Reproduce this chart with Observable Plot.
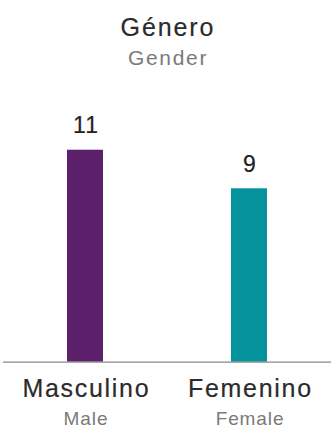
<!DOCTYPE html>
<html>
<head>
<meta charset="utf-8">
<script src="https://cdn.jsdelivr.net/npm/d3@7"></script>
<script src="https://cdn.jsdelivr.net/npm/@observablehq/plot@0.6"></script>
<style>
  html, body { margin: 0; padding: 0; background: #fff; }
  body { width: 331px; height: 429px; overflow: hidden; font-family: "Liberation Sans", Arial, sans-serif; }
  .title { text-align: center; font-size: 25px; line-height: 28px; color: #2b2b2b; padding-top: 13px; margin-left: 5px; letter-spacing: 1.9px; -webkit-text-stroke: 0.2px #2b2b2b; }
  .subtitle { text-align: center; font-size: 21px; line-height: 24px; color: #7a7a7a; margin-top: 5px; margin-left: 5px; letter-spacing: 1.7px; }
  #chart { position: absolute; top: 80px; left: 0; }
</style>
</head>
<body>
<div class="title">Género</div>
<div class="subtitle">Gender</div>
<div id="chart"></div>
<script>
const categories = ["Masculino", "Femenino"];
const englishLabels = ["Male", "Female"];
const values = [11, 9];
const colors = ["#5c206b", "#04929c"];

const data = categories.map((c, i) => ({ cat: c, en: englishLabels[i], value: values[i], color: colors[i] }));

const chart = Plot.plot({
  width: 331,
  height: 349,
  marginTop: 10,
  marginBottom: 67.3,
  marginLeft: 3,
  marginRight: 0,
  style: { fontFamily: "Liberation Sans, Arial, sans-serif", background: "#fff" },
  x: { domain: categories, range: [2, 333], paddingInner: 0.78, paddingOuter: 0.399, axis: null },
  y: { domain: [0, 14.1], axis: null },
  marks: [
    Plot.barY(data, { x: "cat", y: "value", fill: "color" }),
    Plot.ruleY([0], { stroke: "#8a8a8a", strokeWidth: 1.2 }),
    Plot.text(data, { x: "cat", y: "value", text: d => String(d.value), dy: -17, dx: 0.6, fontSize: 23, fill: "#222", stroke: "#222", strokeWidth: 0.2, lineAnchor: "bottom", className: "val" }),
    Plot.text(data, { x: "cat", y: 0, text: "cat", dy: 35, dx: 0.9, fontSize: 25, fill: "#2b2b2b", stroke: "#2b2b2b", strokeWidth: 0.2, lineAnchor: "bottom", className: "cat" }),
    Plot.text(data, { x: "cat", y: 0, text: "en", dy: 63, dx: 0.5, fontSize: 19, fill: "#7a7a7a", lineAnchor: "bottom", className: "en" })
  ]
});
document.getElementById("chart").appendChild(chart);
d3.select(chart).selectAll("g.val text").style("letter-spacing", "1.2px");
d3.select(chart).selectAll("g.cat text").style("letter-spacing", "1.7px");
d3.select(chart).selectAll("g.en text").style("letter-spacing", "0.9px");
</script>
</body>
</html>
